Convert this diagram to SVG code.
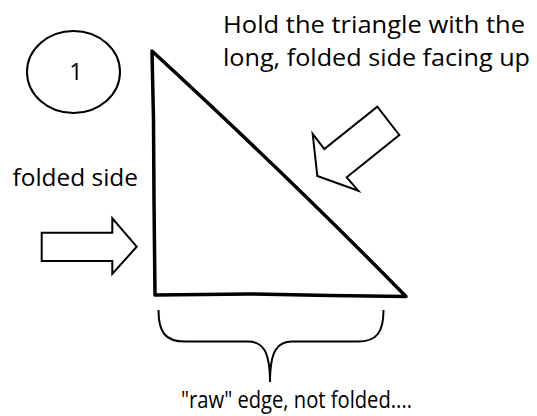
<svg xmlns="http://www.w3.org/2000/svg" width="537" height="416" viewBox="0 0 537 416">
<style>
.t{font-family:"Open Sans","Noto Sans",sans-serif;font-size:23.5px;fill:#000}
.o{fill:#fff;stroke:#000;stroke-width:2}
.tri{fill:none;stroke:#000;stroke-width:3.5;stroke-linejoin:round;stroke-linecap:round}
</style>
<rect width="537" height="416" fill="#fff"/>
<g id="step-number">
<ellipse class="o" cx="73.5" cy="72" rx="46.5" ry="41"/>
<text class="t" x="76" y="79.5" text-anchor="middle">1</text>
</g>
<g id="triangle">
<path class="tri" d="M152,51 L153.5,120 L154,200 L155,295 L250,294 L330,295.5 L406,296.5 Q292,180 152,51 Z"/>
</g>
<g id="instruction">
<text class="t" x="223" y="33" textLength="302" lengthAdjust="spacingAndGlyphs">Hold the triangle with the</text>
<text class="t" x="223" y="66" textLength="307" lengthAdjust="spacingAndGlyphs">long, folded side facing up</text>
</g>
<g id="folded-label">
<text class="t" x="12.5" y="185.5" textLength="125.5" lengthAdjust="spacingAndGlyphs">folded side</text>
</g>
<g id="raw-label">
<text class="t" x="181" y="408" textLength="231" lengthAdjust="spacingAndGlyphs">"raw" edge, not folded....</text>
</g>
<g id="connectors">
<polygon class="o" points="41.7,232.7 112.3,232.7 112.3,218.3 136.7,246.7 112.3,274 112.3,261 41.7,261"/>
<polygon class="o" points="317.3,176 312.7,134 324.3,149 377.3,106.7 399.3,135 346.7,177.3 358.3,190.7"/>
<path fill="none" stroke="#000" stroke-width="2" d="M158.5,310 C158.5,332 165,341.5 185,341.5 L248,341.5 C262,341.5 270,350 270,382 C270,350 278,341.5 292,341.5 L358,341.5 C377,341.5 383.5,332 383.5,310"/>
</g>
</svg>
